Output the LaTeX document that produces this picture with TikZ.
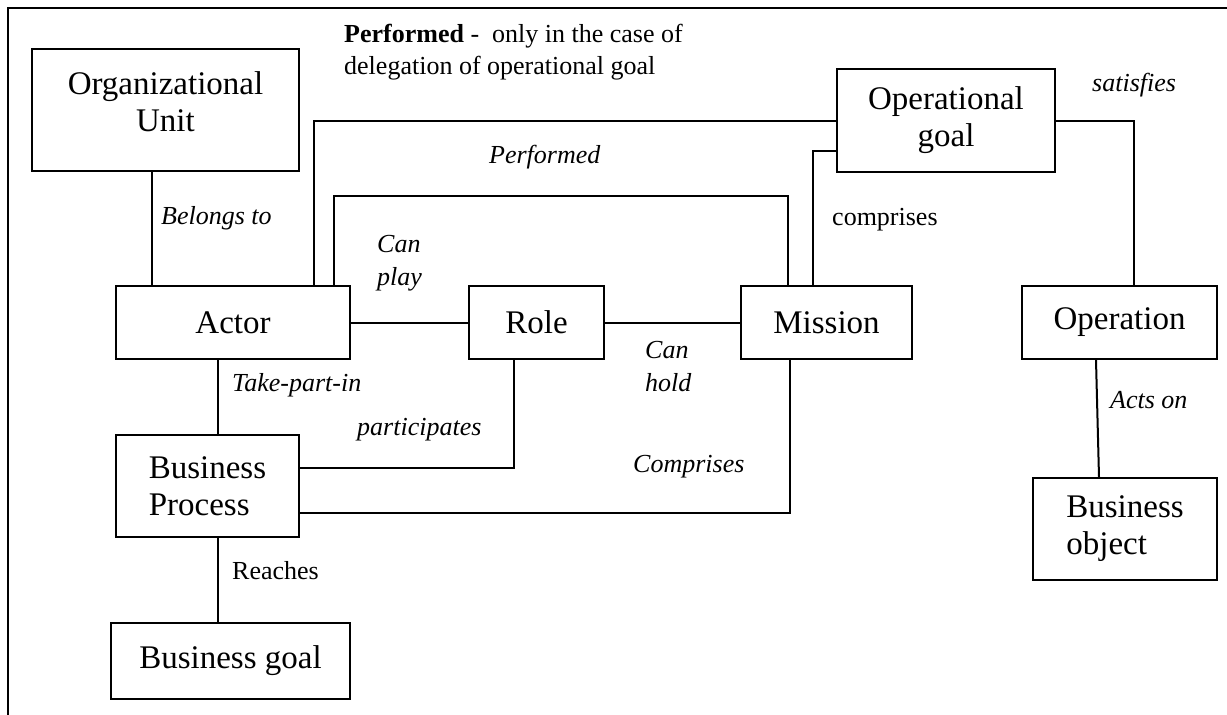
\documentclass[tikz,border=0pt]{standalone}
\usepackage{fontspec}
\setmainfont{Liberation Serif}
\usetikzlibrary{calc}

\begin{document}
\begin{tikzpicture}[x=1pt, y=-1pt,
    entity/.style={draw, line width=2pt, inner sep=0pt, align=center,
      font=\fontsize{33}{37}\selectfont},
    rel/.style={inner sep=0pt, anchor=west, align=left,
      font=\fontsize{26}{33}\selectfont\itshape},
    relup/.style={rel, font=\fontsize{26}{32}\selectfont},
    link/.style={line width=2pt}]
    \useasboundingbox (0,0) rectangle (1227,715);
    \draw[link] (8,715) -- (8,8) -- (1227,8);

    % boxes
    \node[entity, minimum width=267pt, minimum height=122pt,
      label={[align=center, font=\fontsize{33}{37}\selectfont, yshift=8pt]center:Organizational\\Unit}] (org) at (165.5,110) {};
    \node[entity, minimum width=218pt, minimum height=103pt] (opgoal) at (946,120.5) {Operational\\goal};
    \node[entity, minimum width=234pt, minimum height=73pt] (actor) at (233,322.5) {Actor};
    \node[entity, minimum width=135pt, minimum height=73pt] (role) at (536.5,322.5) {Role};
    \node[entity, minimum width=171pt, minimum height=73pt] (mission) at (826.5,322.5) {Mission};
    \node[entity, minimum width=195pt, minimum height=73pt] (operation) at (1119.5,322.5) {Operation};
    \node[entity, minimum width=183pt, minimum height=102pt, align=left] (bp) at (207.5,486) {Business\\Process};
    \node[entity, minimum width=239pt, minimum height=76pt] (bgoal) at (230.5,661) {Business goal};
    \node[entity, minimum width=184pt, minimum height=102pt, align=left] (bobj) at (1125,529) {Business\\object};

    % links
    \coordinate (perfcorner) at (788,196);
    \draw[link] (org.south -| 152,0) -- (actor.north -| 152,0);
    \draw[link] (actor.east) -- (role.west);
    \draw[link] (role.east) -- (mission.west);
    \draw[link] (actor.north -| 314,0) |- (opgoal.west);
    \draw[link] (actor.north -| 334,0) |- (perfcorner) -- (mission.north -| perfcorner);
    \draw[link] (mission.north -| 813,0) |- ($(opgoal.west)+(0,30)$);
    \draw[link] (opgoal.east) -| (operation.north -| 1134,0);
    \draw[link] (actor.south -| 218,0) -- (bp.north -| 218,0);
    \draw[link] (role.south -| 514,0) |- ($(bp.east)+(0,-18)$);
    \draw[link] (mission.south -| 790,0) |- ($(bp.east)+(0,27)$);
    \draw[link] (bp.south -| 218,0) -- (bgoal.north -| 218,0);
    \draw[link] (operation.south -| 1096,0) -- (bobj.north -| 1099,0);

    % labels
    \node[relup] (note) at (344,52) {\textbf{Performed} -\ \ only in the case of\\delegation of operational goal};
    \node[rel] (belongs) at (161,218) {Belongs to};
    \node[rel] (performed) at (489,157) {Performed};
    \node[rel] (canplay) at (377,263.5) {Can\\play};
    \node[relup] (comprisesup) at (832,220) {comprises};
    \node[rel] (satisfies) at (1092,85) {satisfies};
    \node[rel] (canhold) at (645,367) {Can\\hold};
    \node[rel] (takepart) at (232,385) {Take-part-in};
    \node[rel] (participates) at (357,430) {participates};
    \node[rel] (comprisesdown) at (633,467) {Comprises};
    \node[relup] (reaches) at (232,571) {Reaches};
    \node[rel] (actson) at (1110,400) {Acts on};
\end{tikzpicture}
\end{document}
